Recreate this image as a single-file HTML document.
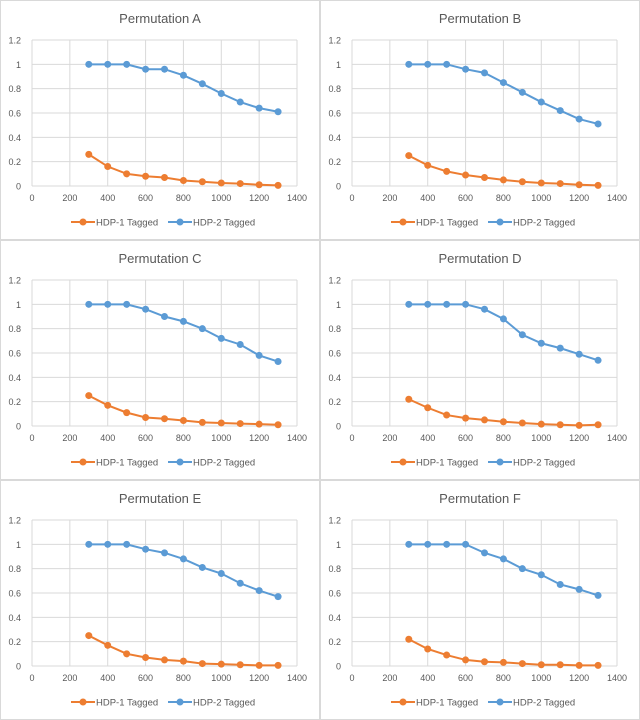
<!DOCTYPE html>
<html><head><meta charset="utf-8"><style>
body{margin:0;background:#fff;}
svg{display:block;font-family:"Liberation Sans",sans-serif;}
</style></head><body>
<svg id="c" width="640" height="720" viewBox="0 0 640 720"></svg>
<script>
const xValues=[300,400,500,600,700,800,900,1000,1100,1200,1300];
const xTicks=[0,200,400,600,800,1000,1200,1400];
const yTicks=[0,0.2,0.4,0.6,0.8,1,1.2];
const yTickLabels=["0","0.2","0.4","0.6","0.8","1","1.2"];
const titles=["Permutation A","Permutation B","Permutation C","Permutation D","Permutation E","Permutation F"];
const hdp2A=[1,1,1,.96,.96,.91,.84,.76,.69,.64,.61];
const hdp1A=[.26,.16,.10,.08,.07,.045,.035,.025,.02,.01,.005];
const hdp2B=[1,1,1,.96,.93,.85,.77,.69,.62,.55,.51];
const hdp1B=[.25,.17,.12,.09,.07,.05,.035,.025,.02,.01,.005];
const hdp2C=[1,1,1,.96,.9,.86,.8,.72,.67,.58,.53];
const hdp1C=[.25,.17,.11,.07,.06,.045,.03,.025,.02,.015,.01];
const hdp2D=[1,1,1,1,.96,.88,.75,.68,.64,.59,.54];
const hdp1D=[.22,.15,.09,.065,.05,.035,.025,.015,.01,.005,.01];
const hdp2E=[1,1,1,.96,.93,.88,.81,.76,.68,.62,.57];
const hdp1E=[.25,.17,.1,.07,.05,.04,.02,.015,.01,.005,.005];
const hdp2F=[1,1,1,1,.93,.88,.8,.75,.67,.63,.58];
const hdp1F=[.22,.14,.09,.05,.035,.03,.02,.01,.01,.005,.005];
const hdp1=[hdp1A,hdp1B,hdp1C,hdp1D,hdp1E,hdp1F];
const hdp2=[hdp2A,hdp2B,hdp2C,hdp2D,hdp2E,hdp2F];
const seriesNames=["HDP-1 Tagged","HDP-2 Tagged"];
const colors=["#ed7d31","#5b9bd5"];
const NS="http://www.w3.org/2000/svg";
const svg=document.getElementById('c');
function mk(tag,attrs,parent){const e=document.createElementNS(NS,tag);for(const k in attrs)e.setAttribute(k,attrs[k]);(parent||svg).appendChild(e);return e;}
titles.forEach((t,i)=>{
  const ox=(i%2)*320, oy=Math.floor(i/2)*240;
  const g=mk('g',{transform:`translate(${ox},${oy})`});
  
  
  const border=mk('rect',{x:0.5,y:0.5,width:319,height:239,fill:'#fff',stroke:'#d9d9d9'},g);
  
  
  const L=32,R=297,T=40,B=186;
  const sx=v=>L+(v/1400)*(R-L), sy=v=>B-(v/1.2)*(B-T);
  const tt=mk('text',{x:160,y:23,'text-anchor':'middle','font-size':'13',fill:'#595959'},g);tt.textContent=t;
  
  
  yTicks.forEach((v,k)=>{
    const ln=mk('line',{x1:L,x2:R,y1:sy(v),y2:sy(v),stroke:'#d9d9d9','stroke-width':1},g);
    
    
    const tx=mk('text',{x:L-11,y:sy(v)+3.5,'text-anchor':'end','font-size':'9',fill:'#595959'},g);tx.textContent=yTickLabels[k];
    
    
  });
  xTicks.forEach(v=>{
    const ln=mk('line',{x1:sx(v),x2:sx(v),y1:T,y2:B,stroke:'#d9d9d9','stroke-width':1},g);
    
    
    const tx=mk('text',{x:sx(v),y:B+15,'text-anchor':'middle','font-size':'9',fill:'#595959'},g);tx.textContent=String(v);
    
    
  });
  [hdp1[i],hdp2[i]].forEach((d,s)=>{
    const pts=d.map((v,k)=>sx(xValues[k])+','+sy(v)).join(' ');
    const pl=mk('polyline',{points:pts,fill:'none',stroke:colors[s],'stroke-width':2},g);
    
    
    d.forEach((v,k)=>{
      const c=mk('circle',{cx:sx(xValues[k]),cy:sy(v),r:3.5,fill:colors[s]},g);
      
      
    });
    const lx=s===0?71:168;
    const ll=mk('line',{x1:lx,x2:lx+24,y1:222,y2:222,stroke:colors[s],'stroke-width':2},g);
    
    
    const lc=mk('circle',{cx:lx+12,cy:222,r:3.5,fill:colors[s]},g);
    
    
    const lt=mk('text',{x:lx+25,y:225.5,'font-size':'9.5',fill:'#595959'},g);lt.textContent=seriesNames[s];
    
    
  });
});
</script>
</body></html>
